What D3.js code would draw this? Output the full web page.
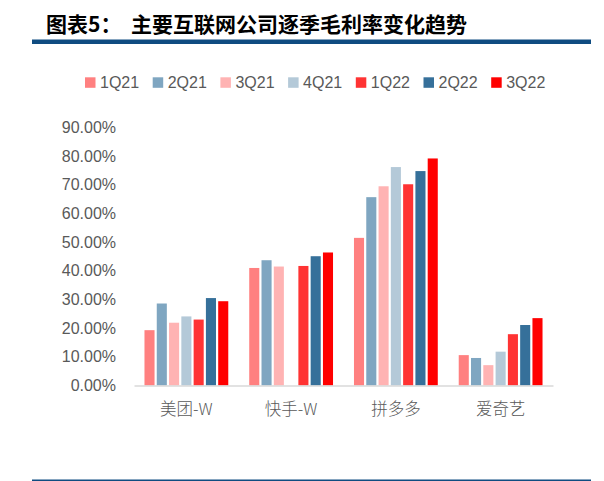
<!DOCTYPE html>
<html>
<head>
<meta charset="utf-8">
<script src="https://cdn.jsdelivr.net/npm/d3@7/dist/d3.min.js"></script>
<style>
  html, body { margin: 0; padding: 0; background: #ffffff; }
  svg { display: block; }
</style>
</head>
<body>
<svg id="chart" width="604" height="481"></svg>
<script>
const categories = ["美团-W", "快手-W", "拼多多", "爱奇艺"];
const series = ["1Q21", "2Q21", "3Q21", "4Q21", "1Q22", "2Q22", "3Q22"];
const colors = ["#ff8080", "#7fa6c1", "#ffb3b3", "#b4c9d8", "#ff3333", "#36709a", "#ff0000"];
// gross margin (%) by series, one value per category (null = no data)
const v1Q21 = [19.3, 41.0, 51.5, 10.6];
const v2Q21 = [28.6, 43.7, 65.7, 9.6];
const v3Q21 = [21.9, 41.5, 69.5, 7.1];
const v4Q21 = [24.1, null, 76.2, 11.8];
const v1Q22 = [23.0, 41.7, 70.2, 17.9];
const v2Q22 = [30.5, 45.1, 74.8, 21.1];
const v3Q22 = [29.4, 46.4, 79.2, 23.5];
const yTicks = [0, 10, 20, 30, 40, 50, 60, 70, 80, 90];

const values = [v1Q21, v2Q21, v3Q21, v4Q21, v1Q22, v2Q22, v3Q22];
const table = categories.map((c, ci) => ({
  cat: c,
  vals: series.map((s, si) => ({ s, v: values[si][ci], color: colors[si] }))
}));

const svg = d3.select("#chart");
const cjk = "'Noto Sans CJK SC', 'Liberation Sans', sans-serif";
const latin = "'Liberation Sans', 'Noto Sans CJK SC', sans-serif";

// Title
svg.append("text").attr("x", 46).attr("y", 23).attr("dominant-baseline", "central")
  .attr("font-family", cjk).attr("font-weight", "bold").attr("font-size", 21).attr("fill", "#000")
  .text("图表5：");
svg.append("text").attr("x", 131).attr("y", 23).attr("dominant-baseline", "central")
  .attr("font-family", cjk).attr("font-weight", "bold").attr("font-size", 21).attr("fill", "#000")
  .text("主要互联网公司逐季毛利率变化趋势");
svg.append("rect").attr("x", 32).attr("y", 39.5).attr("width", 559).attr("height", 4.5).attr("fill", "#0f4c81");
svg.append("rect").attr("x", 32).attr("y", 479.5).attr("width", 559).attr("height", 1.5).attr("fill", "#0f4c81");

// Scales
const x0 = d3.scaleBand().domain(categories).range([134, 553]).padding(0);
const bw = x0.bandwidth();
const x1 = d3.scaleBand().domain(series).range([bw * 0.1, bw * 0.9]).paddingInner(0.18).paddingOuter(0);
const y = d3.scaleLinear().domain([0, 90]).range([385.5, 127.5]);

// Y axis
const yAxis = svg.append("g").attr("transform", "translate(134,0)")
  .call(d3.axisLeft(y).tickValues(yTicks).tickSize(0).tickPadding(18).tickFormat(d => d.toFixed(2) + "%"));
yAxis.select(".domain").remove();
yAxis.selectAll("text").attr("font-family", latin).attr("font-size", 16).attr("fill", "#595959");

// Bars
const groups = svg.append("g").selectAll("g").data(table).join("g")
  .attr("transform", d => `translate(${x0(d.cat)},0)`);
groups.selectAll("rect").data(d => d.vals.filter(e => e.v != null)).join("rect")
  .attr("x", d => x1(d.s))
  .attr("width", x1.bandwidth())
  .attr("y", d => y(d.v))
  .attr("height", d => y(0) - y(d.v))
  .attr("fill", d => d.color);

// X axis
const xAxis = svg.append("g").attr("transform", `translate(0,${y(0)})`)
  .call(d3.axisBottom(x0).tickSize(0).tickPadding(18));
xAxis.select(".domain").attr("stroke", "#d9d9d9").attr("stroke-width", 1.5);
xAxis.selectAll("text").attr("font-family", cjk).attr("font-weight", 300).attr("font-size", 16.5).attr("fill", "#595959");

// Legend
const leg = svg.append("g").selectAll("g").data(series).join("g")
  .attr("transform", (d, i) => `translate(${85 + i * 67.7},77.3)`);
leg.append("rect").attr("width", 10.5).attr("height", 10.5).attr("fill", (d, i) => colors[i]);
leg.append("text").attr("x", 15).attr("y", 5.5).attr("dominant-baseline", "central")
  .attr("font-family", latin).attr("font-size", 16).attr("fill", "#595959").text(d => d);
</script>
</body>
</html>
